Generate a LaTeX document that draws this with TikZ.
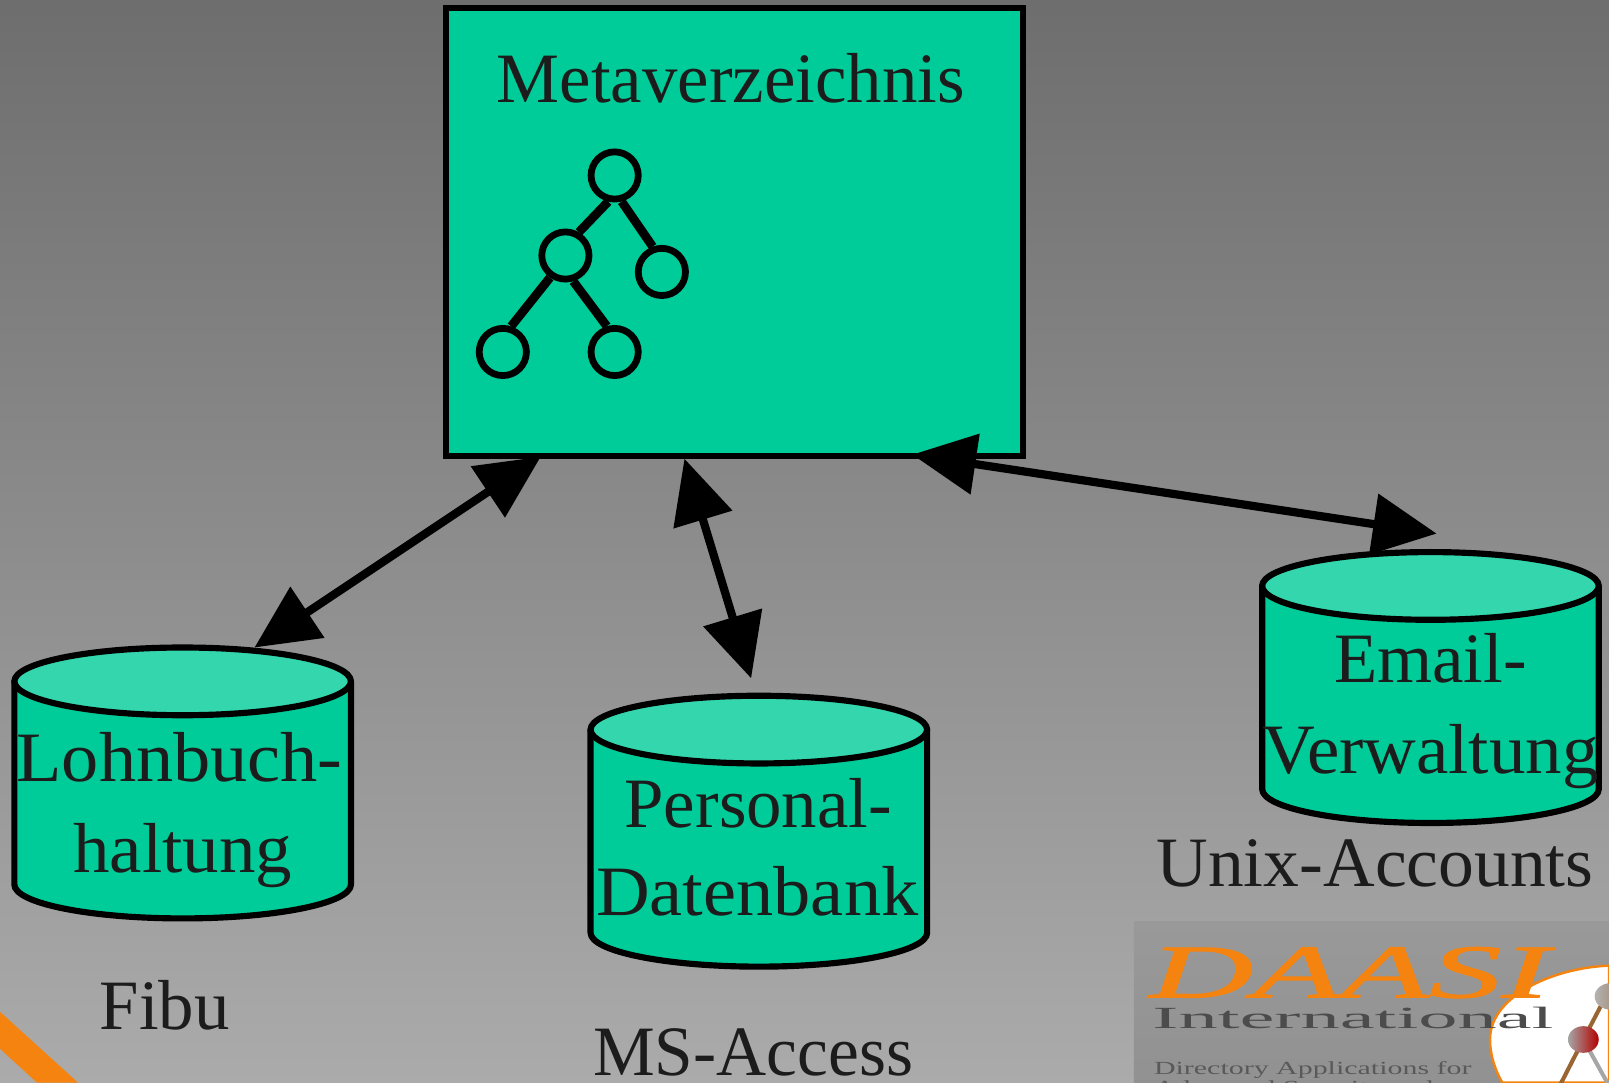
\documentclass[tikz,border=0pt]{standalone}
\usepackage{fontspec}
\setmainfont{Liberation Serif}
\newfontfamily\daasifont[ItalicFeatures={FakeBold=1.2}]{Liberation Serif}
\usetikzlibrary{arrows.meta,calc}
\definecolor{boxgreen}{HTML}{00CC99}
\definecolor{capgreen}{HTML}{33D6AD}
\definecolor{inkdark}{HTML}{1C1C1C}
\definecolor{logoorange}{HTML}{F5830F}
\tikzset{
  metabox/.style={draw=black,line width=3pt,fill=boxgreen,minimum width=281pt,minimum height=218pt,anchor=north west,inner sep=0pt,outer sep=0pt},
  cylslot/.style={minimum width=164pt,minimum height=132pt,anchor=north,inner sep=0pt,outer sep=0pt},
  cylline/.style={draw=black,line width=3pt,line join=round},
  lab/.style={text=inkdark,font=\fontsize{34.5}{44}\selectfont,anchor=base,inner sep=0pt},
  treenode/.style={circle,draw=black,line width=3.3pt,minimum size=23pt,inner sep=0pt,fill=boxgreen},
  treeedge/.style={draw=black,line width=4.3pt},
  biarrow/.style={draw=black,line width=4pt,{Triangle[length=31pt,width=29pt]}-{Triangle[length=31pt,width=29pt]}},
}
% #1 node name, #2 centre x, #3 top y (picture units)
\newcommand{\dbcyl}[3]{%
  \node[cylslot] (#1) at (#2,#3) {};
  \path[cylline,fill=boxgreen] ($(#1.north west)+(0,33)$) -- ($(#1.south west)+(0,-33)$)
     arc[start angle=180,end angle=360,x radius=82pt,y radius=16.5pt]
     -- ($(#1.north east)+(0,33)$) -- cycle;
  \path[cylline,fill=capgreen] ($(#1.north)+(0,33)$) ellipse [x radius=82pt,y radius=16.5pt];
}
\begin{document}
\begin{tikzpicture}[x=0.5pt,y=-0.5pt]
\useasboundingbox (0,0) rectangle (1568,1055);
\shade[top color=black!57,bottom color=black!33] (0,0) rectangle (1568,1055);
\clip (0,0) rectangle (1568,1055);
% orange bar
\fill[logoorange] (0,986) -- (76,1055) -- (36,1055) -- (0,1022) -- cycle;
% logo
\shade[top color=black!40,bottom color=black!43] (1105,898) rectangle (1568,1055);
\fill[white,draw=logoorange,line width=1.2pt] (1568,941) .. controls (1515,943) and (1452,970) .. (1452,1013) .. controls (1452,1028) and (1457,1043) .. (1464,1055) -- (1568,1055) -- cycle;
\draw[brown!80!black,line width=2pt] (1568,965) -- (1543,1013) -- (1520,1058);
\draw[black!35,line width=2pt] (1543,1013) -- (1568,1058);
\shade[left color=black!30,right color=brown!70!black!80] (1570,971) ellipse (16 and 13);
\shade[left color=black!35,right color=red!70!black] (1543,1013) ellipse (15 and 13);
\node[text=logoorange,font=\fontsize{37}{37}\daasifont\itshape,xscale=1.9,anchor=base west,inner sep=0pt] (daasi) at (1119,972) {DAASI};
\node[text=black!70,font=\fontsize{15}{15}\selectfont,xscale=2.55,anchor=base west,inner sep=0pt] (intl) at (1122,1002) {International};
\node[text=black!65,font=\fontsize{9}{9}\selectfont,xscale=1.62,anchor=base west,inner sep=0pt] (dir1) at (1124,1047) {Directory Applications for};
\node[text=black!65,font=\fontsize{9}{9}\selectfont,xscale=1.62,anchor=base west,inner sep=0pt] (dir2) at (1124,1066) {Advanced Security and};
% main box
\node[metabox] (meta) at (435,8) {};
\dbcyl{lohn}{178}{631}
\dbcyl{pers}{739.5}{678}
\dbcyl{mail}{1394}{538}
% tree
\node[treenode] (t1) at (599,171) {};
\node[treenode] (t2) at (551,249) {};
\node[treenode] (t3) at (645,265) {};
\node[treenode] (t4) at (490,343) {};
\node[treenode] (t5) at (599,343) {};
\draw[treeedge] (t1.256) -- (t2.60);
\draw[treeedge] (t1.285) -- (t3.110);
\draw[treeedge] (t2.235) -- (t4.72);
\draw[treeedge] (t2.287) -- (t5.107);
% labels
\node[lab] (lmeta) at (712,100) {Metaverzeichnis};
\node[lab,xscale=1.05] (l1a) at (175,762) {Lohnbuch-};
\node[lab,xscale=1.03] (l1b) at (178,850) {haltung};
\node[lab] (l2a) at (739,806) {Personal-};
\node[lab,xscale=1.05] (l2b) at (738,892) {Datenbank};
\node[lab] (l3a) at (1394,665) {Email-};
\node[lab,xscale=1.03] (l3b) at (1394,754) {Verwaltung};
\node[lab] (fibu) at (160.5,1003) {Fibu};
\node[lab,xscale=0.98] (access) at (734,1048) {MS-Access};
\node[lab,xscale=1.01] (unix) at (1340,864) {Unix-Accounts};
% connectors
\draw[biarrow] ($(lohn.north)+(70,0)$) -- ($(meta.south west)+(92,1)$);
\draw[biarrow] ($(pers.north)+(-7.5,-17)$) -- ($(meta.south west)+(232,3)$);
\draw[biarrow] ($(mail.north)+(6,-18)$) -- ($(meta.south west)+(454,-1)$);
\end{tikzpicture}
\end{document}
